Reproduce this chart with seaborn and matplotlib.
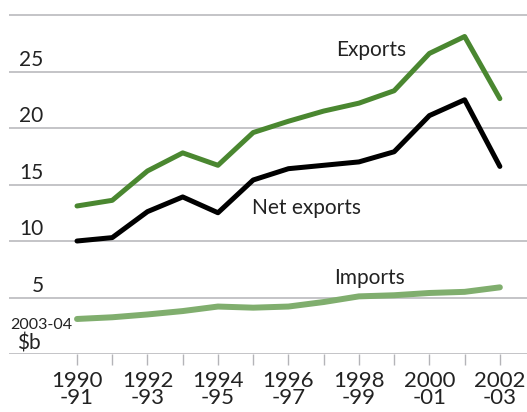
import numpy as np
import pandas as pd
import matplotlib
matplotlib.use("Agg")
import matplotlib.pyplot as plt
import seaborn as sns

# values ($b, 2003-04 prices)
years = list(range(1990, 2003))
exports = [13.1, 13.6, 16.2, 17.8, 16.7, 19.6, 20.6, 21.5, 22.2, 23.3, 26.6, 28.1, 22.6]
net_exports = [10.0, 10.3, 12.6, 13.9, 12.5, 15.4, 16.4, 16.7, 17.0, 17.9, 21.1, 22.5, 16.6]
imports = [3.1, 3.25, 3.5, 3.8, 4.2, 4.1, 4.2, 4.6, 5.1, 5.2, 5.4, 5.5, 5.9]
label_years = [1990, 1992, 1994, 1996, 1998, 2000, 2002]
y_ticks = [5, 10, 15, 20, 25]

df = pd.DataFrame({"year": years, "Exports": exports,
                   "Net exports": net_exports, "Imports": imports})

sns.set_style("white", {"xtick.bottom": True})
plt.rcParams["font.family"] = ["Lato", "DejaVu Sans"]

fig = plt.figure(figsize=(5.27, 4.12), dpi=100)
ax = fig.add_axes([9 / 527, 58 / 412, 518 / 527, 354 / 412])

grid_col = "#b4b4b8"
for v in [0] + y_ticks + [30]:
    ax.axhline(v, color=grid_col, lw=1.1, zorder=1)

sns.lineplot(data=df, x="year", y="Imports", color="#80ae6e", lw=4.3,
             ax=ax, zorder=3, solid_capstyle="round")
sns.lineplot(data=df, x="year", y="Net exports", color="black", lw=3.6,
             ax=ax, zorder=4, solid_capstyle="round")
sns.lineplot(data=df, x="year", y="Exports", color="#4a8730", lw=3.6,
             ax=ax, zorder=4, solid_capstyle="round")

ax.set_xlim(1988.07, 2002.77)
ax.set_ylim(0, 31.33)
for s in ax.spines.values():
    s.set_visible(False)
ax.set_xlabel("")
ax.set_ylabel("")
ax.set_yticks([])

# x ticks: small marks below the baseline every year, labels every 2 years
ax.set_xticks(years)
ax.set_xticklabels([f"{y}\n-{(y + 1) % 100:02d}" if y in label_years else "" for y in years],
                   fontsize=16, color="#222222", linespacing=0.85)
ax.tick_params(axis="x", bottom=True, direction="out", length=8, width=1,
               color=grid_col, pad=4)

# y labels above the grid lines
for v in y_ticks:
    ax.text(1989.05, v + 0.15, str(v), ha="right", va="bottom", fontsize=15,
            color="#222222")
ax.text(1988.1, 2.55, "2003-04", ha="left", va="center", fontsize=11.5, color="#222222")
ax.text(1988.3, 0.95, "$b", ha="left", va="center", fontsize=15, color="#222222")

# series labels
ax.text(1998.35, 26.9, "Exports", ha="center", va="center", fontsize=15, color="#222222")
ax.text(1996.5, 12.9, "Net exports", ha="center", va="center", fontsize=15, color="#222222")
ax.text(1998.3, 6.7, "Imports", ha="center", va="center", fontsize=15, color="#222222")

fig.savefig("out.png", dpi=100)
